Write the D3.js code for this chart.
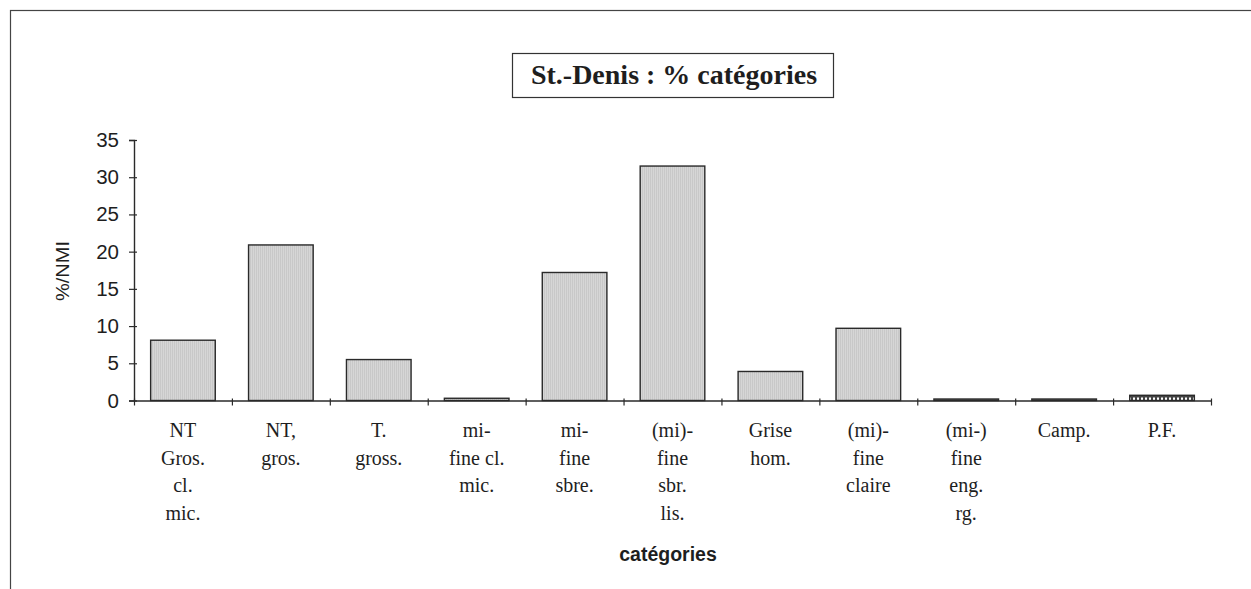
<!DOCTYPE html>
<html>
<head>
<meta charset="utf-8">
<script src="https://cdn.jsdelivr.net/npm/d3@7"></script>
<style>
  html, body { margin: 0; padding: 0; background: #fff; }
  svg { display: block; }
</style>
</head>
<body>
<svg id="chart" width="1251" height="589"></svg>
<script>
// Category labels (one entry per line) and their percentages
const categories = [
  ["NT", "Gros.", "cl.", "mic."],
  ["NT,", "gros."],
  ["T.", "gross."],
  ["mi-", "fine cl.", "mic."],
  ["mi-", "fine", "sbre."],
  ["(mi)-", "fine", "sbr.", "lis."],
  ["Grise", "hom."],
  ["(mi)-", "fine", "claire"],
  ["(mi-)", "fine", "eng.", "rg."],
  ["Camp."],
  ["P.F."]
];
const values = [8.1, 20.9, 5.5, 0.3, 17.2, 31.5, 3.9, 9.7, 0.2, 0.2, 0.7];
const yTicks = [0, 5, 10, 15, 20, 25, 30, 35];
const titleText = "St.-Denis : % catégories";
const xTitle = "catégories";
const yTitle = "%/NMI";

const ink = "#2a2a2a";
const svg = d3.select("#chart");

// Patterns: grey stipple for ordinary bars, chequered strip for the last one
const defs = svg.append("defs");
const grey = defs.append("pattern").attr("id", "grey")
  .attr("patternUnits", "userSpaceOnUse").attr("width", 2).attr("height", 2);
grey.append("rect").attr("width", 2).attr("height", 2).attr("fill", "#d6d6d6");
grey.append("rect").attr("width", 1).attr("height", 2).attr("fill", "#c8c8c8");

const check = defs.append("pattern").attr("id", "check")
  .attr("patternUnits", "userSpaceOnUse").attr("width", 4).attr("height", 6);
check.append("rect").attr("width", 4).attr("height", 6).attr("fill", "#444");
check.append("rect").attr("x", 1).attr("y", 1.5).attr("width", 2).attr("height", 2.5).attr("fill", "#fff");

// Outer frame
svg.append("rect")
  .attr("x", 10.5).attr("y", 10.5).attr("width", 1300).attr("height", 700)
  .attr("fill", "none").attr("stroke", "#444").attr("stroke-width", 1.2);

// Scales
const idx = categories.map((_, i) => i);
const x = d3.scaleBand().domain(idx).range([134, 1211])
  .paddingInner(0.34).paddingOuter(0.17);
const y = d3.scaleLinear().domain([0, 35]).range([400.5, 140]);

// Bars
svg.append("g").selectAll("rect").data(values).join("rect")
  .attr("x", (d, i) => x(i))
  .attr("y", d => y(d))
  .attr("width", x.bandwidth())
  .attr("height", d => y(0) - y(d))
  .attr("fill", (d, i) => i === values.length - 1 ? "url(#check)" : "url(#grey)")
  .attr("stroke", ink).attr("stroke-width", 1.4);

// Y axis with ticks crossing the line
const yAxis = svg.append("g").attr("transform", "translate(134,0)")
  .call(d3.axisLeft(y).tickValues(yTicks).tickSize(5).tickPadding(10));
yAxis.select(".domain").attr("stroke", ink).attr("stroke-width", 1.4);
yAxis.selectAll(".tick line").attr("stroke", ink).attr("stroke-width", 1.2)
  .attr("x1", 3).attr("x2", -5);
yAxis.selectAll(".tick text")
  .attr("fill", "#1e1e1e").attr("font-family", "'Liberation Sans', Arial, sans-serif")
  .attr("font-size", 20.5);

// X axis: line plus tick marks at the category boundaries
const step = x.step();
const bounds = idx.map(i => x(i) - step * x.paddingInner() / 2).concat([1211]);
const xAxis = svg.append("g").attr("transform", `translate(0,${y(0)})`)
  .call(d3.axisBottom(d3.scaleLinear().domain([134, 1211]).range([134, 1211]))
    .tickValues(bounds).tickSize(5).tickSizeOuter(0).tickFormat(""));
xAxis.select(".domain").attr("stroke", ink).attr("stroke-width", 1.4);
xAxis.selectAll(".tick line").attr("stroke", ink).attr("stroke-width", 1.2)
  .attr("y1", -2).attr("y2", 5);

// Category labels, several lines each
const lab = svg.append("g")
  .attr("font-family", "'Liberation Serif', 'Times New Roman', serif")
  .attr("font-size", 20).attr("fill", "#1e1e1e").attr("text-anchor", "middle");
categories.forEach((lines, i) => {
  const t = lab.append("text").attr("x", x(i) + x.bandwidth() / 2).attr("y", 437);
  lines.forEach((ln, k) => {
    t.append("tspan").attr("x", x(i) + x.bandwidth() / 2)
      .attr("y", 437 + k * 27.6).text(ln);
  });
});

// Axis titles
svg.append("text")
  .attr("x", 668).attr("y", 561).attr("text-anchor", "middle")
  .attr("font-family", "'Liberation Sans', Arial, sans-serif")
  .attr("font-weight", "bold").attr("font-size", 19.5).attr("fill", "#1e1e1e")
  .text(xTitle);

svg.append("text")
  .attr("transform", "translate(69,271) rotate(-90)")
  .attr("text-anchor", "middle")
  .attr("font-family", "'Liberation Sans', Arial, sans-serif")
  .attr("font-size", 19).attr("fill", "#1e1e1e")
  .attr("textLength", 60).attr("lengthAdjust", "spacingAndGlyphs")
  .text(yTitle);

// Boxed title
svg.append("text")
  .attr("x", 674).attr("y", 84).attr("text-anchor", "middle")
  .attr("font-family", "'Liberation Serif', 'Times New Roman', serif")
  .attr("font-weight", "bold").attr("font-size", 28).attr("fill", "#1e1e1e")
  .text(titleText);
svg.append("rect")
  .attr("x", 512.5).attr("y", 53.5).attr("width", 321).attr("height", 44)
  .attr("fill", "none").attr("stroke", "#333").attr("stroke-width", 1.2);
</script>
</body>
</html>
